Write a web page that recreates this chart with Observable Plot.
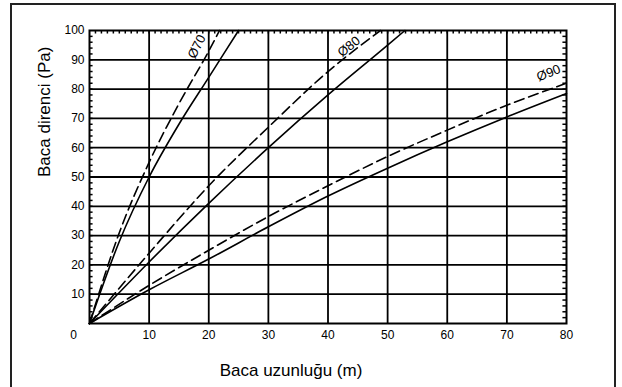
<!DOCTYPE html>
<html>
<head>
<meta charset="utf-8">
<script src="https://cdn.jsdelivr.net/npm/d3@7"></script>
<script src="https://cdn.jsdelivr.net/npm/@observablehq/plot@0.6"></script>
<style>
  html, body { margin: 0; padding: 0; background: #fff; }
  body { width: 622px; height: 387px; overflow: hidden; position: relative; font-family: "Liberation Sans", Arial, sans-serif; }
  #frame { position: absolute; left: 10px; top: 3px; width: 606px; height: 430px; border: 2px solid #222; box-sizing: border-box; }
  #chart { position: absolute; left: 0; top: 0; }
</style>
</head>
<body>
<div id="frame"></div>
<div id="chart"></div>
<script>
// ---- data ----
const xTicks = [0, 10, 20, 30, 40, 50, 60, 70, 80];
const yTicks = [0, 10, 20, 30, 40, 50, 60, 70, 80, 90, 100];
const xTitle = "Baca uzunluğu (m)";
const yTitle = "Baca direnci (Pa)";

// Ø70 solid / dashed
const d70_len  = [0, 5, 10, 15, 20, 25];
const d70_pa   = [0, 28, 50, 68, 84, 100];
const d70d_len = [0, 5, 10, 15, 20, 21.8];
const d70d_pa  = [0, 31, 55, 75, 93, 100];
// Ø80 solid / dashed
const d80_len  = [0, 10, 20, 30, 40, 50, 52.9];
const d80_pa   = [0, 21, 41, 60, 78, 95, 100];
const d80d_len = [0, 10, 20, 30, 40, 48.8];
const d80d_pa  = [0, 24, 47, 67, 86, 100];
// Ø90 solid / dashed
const d90_len  = [0, 10, 20, 30, 40, 50, 60, 70, 80];
const d90_pa   = [0, 11.5, 22, 33, 43.5, 53, 62, 70.5, 78.5];
const d90d_pa  = [0, 13, 25, 36.5, 47, 57, 66, 74.5, 82];

// curve labels (annotation anchors in data units)
const labelText = ["Ø70", "Ø80", "Ø90"];
const labelLen  = [18.0, 43.5, 77.0];
const labelPa   = [94.5, 94.5, 85.5];
const labelRot  = [-63, -39, -22];

// ---- build tables ----
const zip = (xs, ys) => xs.map((x, i) => ({x, y: ys[i]}));
const solid = [zip(d70_len, d70_pa), zip(d80_len, d80_pa), zip(d90_len, d90_pa)];
const dashed = [zip(d70d_len, d70d_pa), zip(d80d_len, d80d_pa), zip(d90_len, d90d_pa)];
const labels = labelText.map((t, i) => ({t, x: labelLen[i], y: labelPa[i], r: labelRot[i]}));

const xMin = 0, xMax = 80, yMin = 0, yMax = 100;
const minorX = d3.range(xMin + 1, xMax, 1);
const minorY = d3.range(yMin + 2, yMax, 2);

const font = '"Liberation Sans", Arial, Helvetica, sans-serif';

const marks = [
  Plot.gridX(xTicks.slice(1, -1), {stroke: "#000", strokeOpacity: 1, strokeWidth: 1.8}),
  Plot.gridY(yTicks.slice(1, -1), {stroke: "#000", strokeOpacity: 1, strokeWidth: 1.8}),
  // minor ticks (inward dots) on top, left, right
  Plot.ruleX(minorX, {x: d => d, y1: yMax, y2: yMax - 1.2, stroke: "#000", strokeWidth: 1.5}),
  Plot.ruleY(minorY, {y: d => d, x1: xMin, x2: xMin + 0.6, stroke: "#000", strokeWidth: 1.5}),
  Plot.ruleY(minorY, {y: d => d, x1: xMax, x2: xMax - 0.6, stroke: "#000", strokeWidth: 1.5}),
  Plot.frame({stroke: "#000", strokeWidth: 2}),
  Plot.axisX(xTicks.slice(1), {tickSize: 0, tickPadding: 7, label: null, fontSize: 12}),
  Plot.axisX([xTicks[0]], {tickSize: 0, tickPadding: 7, label: null, fontSize: 12, dx: -16}),
  Plot.axisY(yTicks.slice(1), {tickSize: 0, tickPadding: 5, label: null, fontSize: 12}),
  ...solid.map(s => Plot.line(s, {x: "x", y: "y", curve: "monotone-x", stroke: "#000", strokeWidth: 1.6})),
  ...dashed.map(s => Plot.line(s, {x: "x", y: "y", curve: "monotone-x", stroke: "#000", strokeWidth: 1.6, strokeDasharray: "10,5"})),
  Plot.text(labels, {x: "x", y: "y", text: "t", rotate: "r", fontSize: 13, fill: "#000"}),
  Plot.text([xTitle], {frameAnchor: "bottom", dx: -37, dy: 52, fontSize: 17, fill: "#000"}),
  Plot.text([yTitle], {frameAnchor: "left", rotate: -90, dx: -45, fontSize: 17, fill: "#000"})
];

const chart = Plot.plot({
  width: 622,
  height: 387,
  marginLeft: 89,
  marginRight: 56,
  marginTop: 30,
  marginBottom: 64,
  x: {domain: [xMin, xMax]},
  y: {domain: [yMin, yMax]},
  style: {fontFamily: font, fontSize: "12px", color: "#000", background: "transparent", overflow: "visible"},
  marks
});
document.getElementById("chart").appendChild(chart);
</script>
</body>
</html>
